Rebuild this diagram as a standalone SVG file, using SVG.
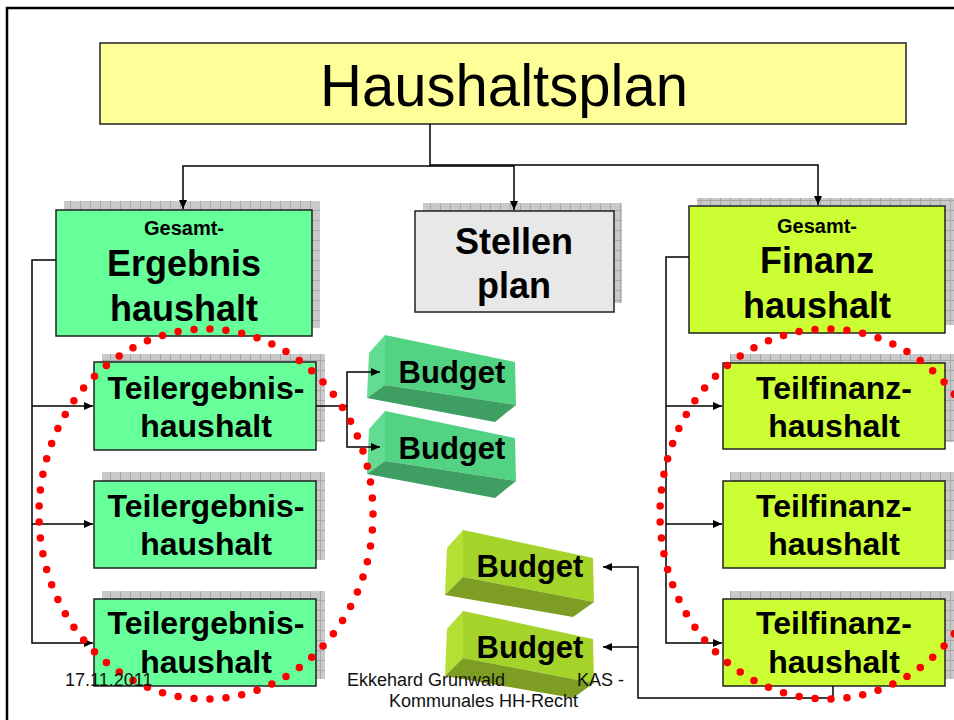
<svg xmlns="http://www.w3.org/2000/svg" width="954" height="720" viewBox="0 0 954 720">
<defs>
<pattern id="grid" width="10" height="10" patternUnits="userSpaceOnUse">
<rect width="10" height="10" fill="#c9c9c9"/>
<path d="M0,0.5 H10 M0.5,0 V10" stroke="#a8a8a8" stroke-width="1" fill="none"/>
</pattern>
<marker id="arr" markerWidth="10" markerHeight="8" refX="9" refY="4" orient="auto" markerUnits="userSpaceOnUse">
<path d="M0,0 L9,4 L0,8 z" fill="#000"/>
</marker>
</defs>
<style>
.box{stroke:#222;stroke-width:1.5}
.sh{fill:url(#grid)}
.t{font-family:"Liberation Sans",Arial,sans-serif;font-weight:bold;text-anchor:middle;fill:#000}
.ca{fill:none;stroke:#000;stroke-width:1.5;marker-end:url(#arr)}
.f{font-family:"Liberation Sans",Arial,sans-serif;font-size:18px;fill:#111}
.dots{fill:none;stroke:#ff0000;stroke-width:7.5;stroke-linecap:round;stroke-dasharray:0 16.03}
</style>
<rect width="954" height="720" fill="#fff"/>
<path d="M7,720 V8 H954" fill="none" stroke="#000" stroke-width="2.5"/>

<g id="haushaltsplan">
<rect x="100" y="43" width="806" height="81" fill="#ffff99" class="box"/>
<text x="504" y="106" font-family="Liberation Sans, Arial, sans-serif" font-size="60" text-anchor="middle" textLength="368" lengthAdjust="spacingAndGlyphs">Haushaltsplan</text>
</g>

<g id="gesamt-ergebnis">
<rect x="64" y="201" width="256" height="127" class="sh"/>
<rect x="56" y="210" width="256" height="126" fill="#66ff99" class="box"/>
<text x="184" y="235" class="t" font-size="20">Gesamt-</text>
<text x="184" y="276" class="t" font-size="36">Ergebnis</text>
<text x="184" y="321" class="t" font-size="36">haushalt</text>
</g>

<g id="stellenplan">
<rect x="423" y="203" width="199" height="100" class="sh"/>
<rect x="415" y="211" width="199" height="101" fill="#e8e8e8" class="box"/>
<text x="514" y="254" class="t" font-size="36">Stellen</text>
<text x="514" y="298" class="t" font-size="36">plan</text>
</g>

<g id="gesamt-finanz">
<rect x="697" y="198" width="257" height="127" class="sh"/>
<rect x="689" y="206" width="256" height="127" fill="#ccff33" class="box"/>
<text x="817" y="233" class="t" font-size="20">Gesamt-</text>
<text x="817" y="273" class="t" font-size="36">Finanz</text>
<text x="817" y="318" class="t" font-size="36">haushalt</text>
</g>

<g id="teilergebnis-1">
<rect x="102" y="354" width="223" height="88" class="sh"/>
<rect x="94" y="362" width="222" height="88" fill="#66ff99" class="box"/>
<text x="206" y="399" class="t" font-size="32">Teilergebnis-</text>
<text x="206" y="437" class="t" font-size="32">haushalt</text>
</g>
<g id="teilergebnis-2">
<rect x="102" y="472" width="223" height="88" class="sh"/>
<rect x="94" y="481" width="222" height="87" fill="#66ff99" class="box"/>
<text x="206" y="517" class="t" font-size="32">Teilergebnis-</text>
<text x="206" y="555" class="t" font-size="32">haushalt</text>
</g>
<g id="teilergebnis-3">
<rect x="102" y="591" width="223" height="88" class="sh"/>
<rect x="94" y="599" width="222" height="87" fill="#66ff99" class="box"/>
<text x="206" y="634" class="t" font-size="32">Teilergebnis-</text>
<text x="206" y="673" class="t" font-size="32">haushalt</text>
</g>

<g id="teilfinanz-1">
<rect x="730" y="354" width="224" height="88" class="sh"/>
<rect x="723" y="363" width="222" height="86" fill="#ccff33" class="box"/>
<text x="834" y="399" class="t" font-size="32">Teilfinanz-</text>
<text x="834" y="437" class="t" font-size="32">haushalt</text>
</g>
<g id="teilfinanz-2">
<rect x="730" y="472" width="224" height="88" class="sh"/>
<rect x="723" y="481" width="222" height="87" fill="#ccff33" class="box"/>
<text x="834" y="517" class="t" font-size="32">Teilfinanz-</text>
<text x="834" y="555" class="t" font-size="32">haushalt</text>
</g>
<g id="teilfinanz-3">
<rect x="730" y="591" width="224" height="88" class="sh"/>
<rect x="723" y="599" width="222" height="87" fill="#ccff33" class="box"/>
<text x="834" y="634" class="t" font-size="32">Teilfinanz-</text>
<text x="834" y="673" class="t" font-size="32">haushalt</text>
</g>

<g id="budget-1">
<polygon points="369,353 385,335 385,385 367,398" fill="#62dc92"/>
<polygon points="385,335 515,362 516,405 385,385" fill="#52d283"/>
<polygon points="367,398 385,385 516,405 495,422" fill="#3f9e62"/>
<text x="452" y="383" class="t" font-size="31">Budget</text>
</g>
<g id="budget-2" transform="translate(0,76)">
<polygon points="369,353 385,335 385,385 367,398" fill="#62dc92"/>
<polygon points="385,335 515,362 516,405 385,385" fill="#52d283"/>
<polygon points="367,398 385,385 516,405 495,422" fill="#3f9e62"/>
<text x="452" y="383" class="t" font-size="31">Budget</text>
</g>
<g id="budget-3">
<polygon points="447,548 463,530 463,577 445,595" fill="#b2e034"/>
<polygon points="463,530 593,558 594,602 463,577" fill="#a4d42a"/>
<polygon points="445,595 463,577 594,602 573,617" fill="#7d9e22"/>
<text x="530" y="577" class="t" font-size="31">Budget</text>
</g>
<g id="budget-4" transform="translate(0,81)">
<polygon points="447,548 463,530 463,577 445,595" fill="#b2e034"/>
<polygon points="463,530 593,558 594,602 463,577" fill="#a4d42a"/>
<polygon points="445,595 463,577 594,602 573,617" fill="#7d9e22"/>
<text x="530" y="577" class="t" font-size="31">Budget</text>
</g>

<g id="connectors">
<path class="ca" d="M430,124 V166 H183 V209"/>
<path class="ca" d="M430,166 H514 V210"/>
<path class="ca" d="M430,165 H818 V205"/>
<path class="ca" d="M56,260 H32 V643 H93"/>
<path class="ca" d="M32,406 H93"/>
<path class="ca" d="M32,524 H93"/>
<path class="ca" d="M316,406 H347 V372 H380"/>
<path class="ca" d="M347,406 V447 H380"/>
<path class="ca" d="M689,257 H666 V643 H722"/>
<path class="ca" d="M666,406 H722"/>
<path class="ca" d="M666,524 H722"/>
<path class="ca" d="M833,686 V698 H638 V567 H603"/>
<path class="ca" d="M638,647 H603"/>
</g>

<g id="dotted-circles">
<ellipse cx="206" cy="514" rx="167" ry="185" class="dots"/>
<ellipse cx="827" cy="514" rx="167" ry="185" class="dots"/>
</g>

<g id="footer">
<text x="65" y="686" class="f">17.11.2011</text>
<text x="347" y="686" class="f">Ekkehard Grunwald</text>
<text x="577" y="686" class="f">KAS -</text>
<text x="389" y="707" class="f">Kommunales HH-Recht</text>
</g>
</svg>
